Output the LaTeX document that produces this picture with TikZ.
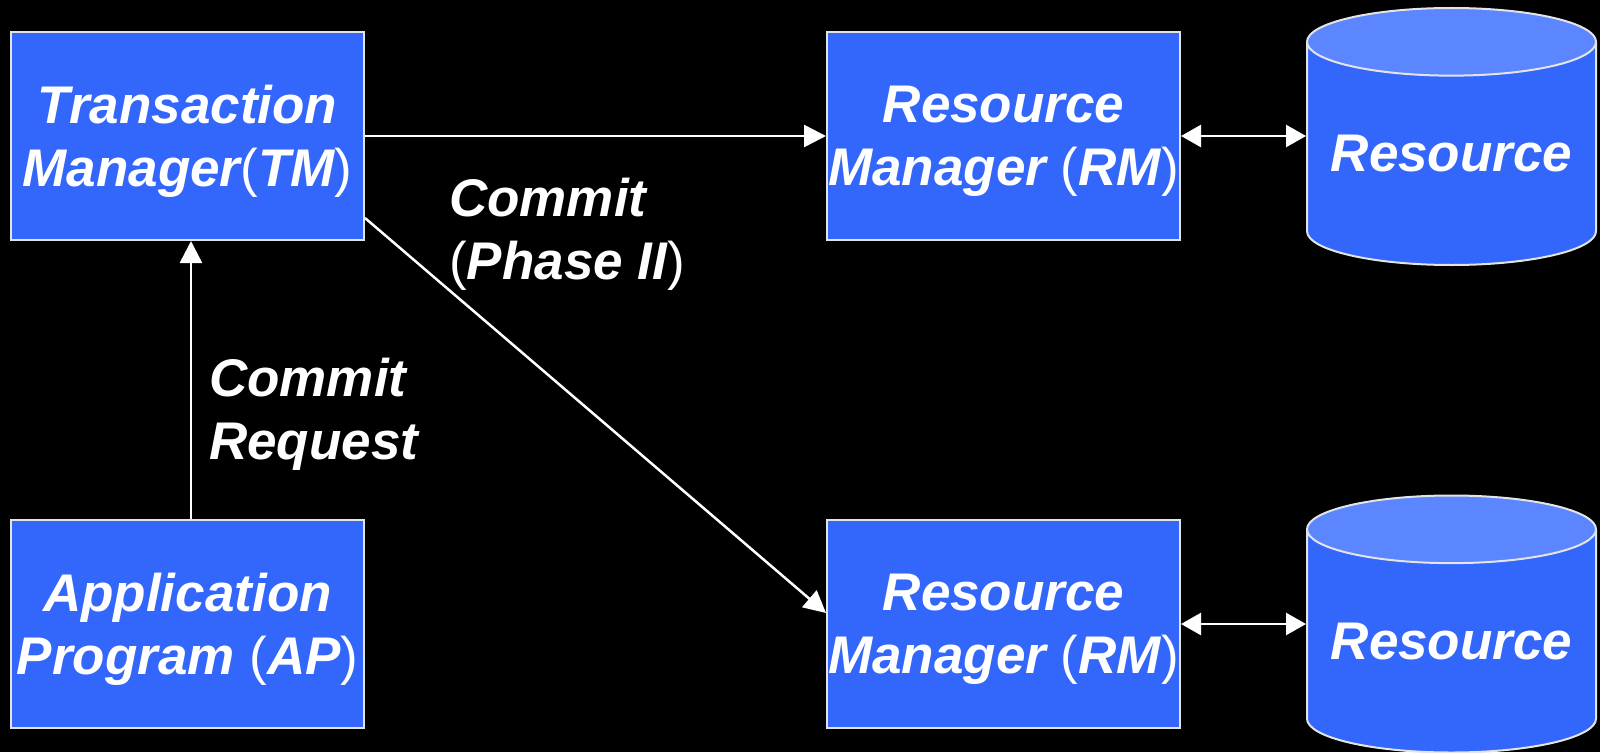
\documentclass[tikz,border=0pt]{standalone}
\usepackage{fontspec}
\setmainfont{Liberation Sans}
\usetikzlibrary{arrows.meta,calc,shapes.geometric}

\definecolor{boxblue}{RGB}{51,102,250}
\definecolor{topblue}{RGB}{92,134,255}
\definecolor{edgegrey}{RGB}{228,228,228}
\newcommand{\pn}[1]{{\mdseries\upshape#1}}

\begin{document}
\begin{tikzpicture}[x=1pt,y=-1pt,
  txt/.style={text=white,font=\fontsize{53}{63}\selectfont\bfseries\itshape},
  box/.style={txt,draw=edgegrey,line width=2pt,fill=boxblue,minimum width=353pt,
    minimum height=208pt,align=center,inner sep=0pt,text depth=0pt},
  store/.style={txt,cylinder,shape border rotate=90,aspect=0.28,draw=edgegrey,line width=2pt,
    cylinder uses custom fill,cylinder body fill=boxblue,cylinder end fill=topblue,
    minimum width=289pt,minimum height=257pt,inner sep=0pt,anchor=shape center},
  link/.style={white,line width=2.5pt,-{Triangle[length=22pt,width=22pt]}},
  both/.style={white,line width=2.5pt,{Triangle[length=20pt,width=22pt]}-{Triangle[length=20pt,width=22pt]}},
  lbl/.style={txt,align=left,anchor=north west,inner sep=0pt}]
% background
\fill[black] (0,0) rectangle (1600,752);
\useasboundingbox (0,0) rectangle (1600,752);

% boxes
\node[box] (tm)  at (187.5,136) {Transaction\\Manager\pn{(}TM\pn{)}};
\node[box] (ap)  at (187.5,624) {Application\\Program \pn{(}AP\pn{)}};
\node[box] (rm1) at (1003.5,136) {Resource\\Manager \pn{(}RM\pn{)}};
\node[box] (rm2) at (1003.5,624) {Resource\\Manager \pn{(}RM\pn{)}};

% resources
\node[store] (res1) at (1451.5,136.5) {Resource};
\node[store] (res2) at (1451.5,624) {Resource};

% connectors
\draw[link] ([xshift=3.5pt]ap.north) -- ([xshift=3.5pt]tm.south);
\draw[link] (tm) -- (rm1);
\draw[link] ($(tm.east)+(0,82)$) -- ($(rm2.west)+(0,-11)$);
\draw[both] (rm1.east) -- (rm1.east -| res1.west);
\draw[both] (rm2.east) -- (rm2.east -| res2.west);

% labels
\node[lbl] (req) at (209,358) {Commit\\Request};
\node[lbl] (ph2) at (449,178) {Commit\\\pn{(}Phase II\pn{)}};
\end{tikzpicture}
\end{document}
